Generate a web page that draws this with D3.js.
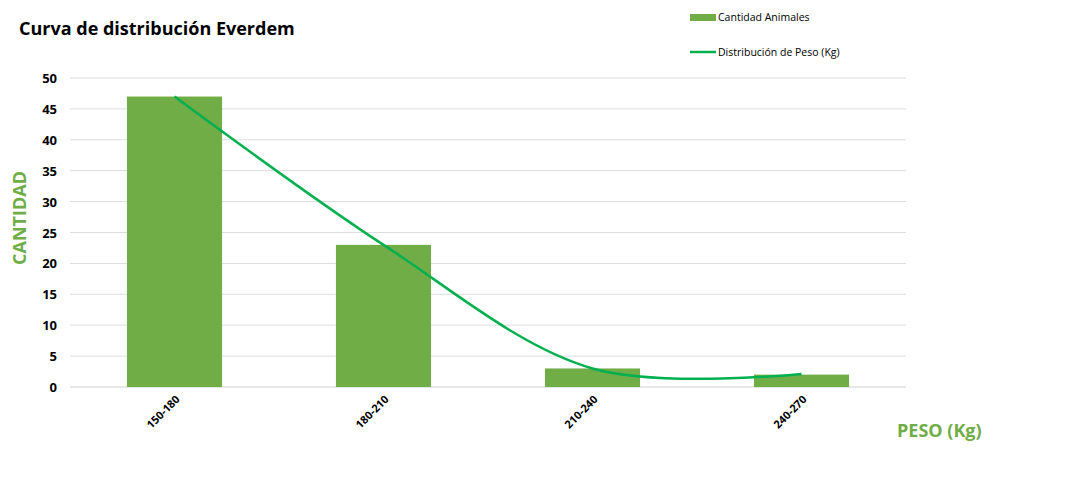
<!DOCTYPE html>
<html><head><meta charset="utf-8">
<script src="https://cdn.jsdelivr.net/npm/d3@7"></script>
<style>body{margin:0;background:#fff}text{font-family:"Open Sans","Liberation Sans",sans-serif}</style>
</head><body><svg id="c" width="1084" height="479"></svg>
<script>
const categories=["150-180","180-210","210-240","240-270"];
const animals=[47,23,3,2];
const distribution=[47,23,3,2.1];
const yTicks=[0,5,10,15,20,25,30,35,40,45,50];
const svg=d3.select("#c");
const x=d3.scaleBand().domain(categories).range([70,906]).paddingInner(0.545).paddingOuter(0.2725);
const y=d3.scaleLinear().domain([0,50]).range([387,78]);
const g=svg.append("g");
g.selectAll("line.grid").data(yTicks).join("line").attr("x1",70).attr("x2",906)
 .attr("y1",d=>y(d)).attr("y2",d=>y(d)).attr("stroke",d=>d===0?"#d0d0d0":"#dcdcdc").attr("stroke-width",1);
g.selectAll("text.yt").data(yTicks).join("text").attr("x",57).attr("y",d=>y(d)+5).attr("text-anchor","end")
 .attr("font-size",13).attr("font-weight","bold").attr("fill","#000").text(d=>d);
g.selectAll("rect").data(categories).join("rect").attr("x",d=>x(d)).attr("width",x.bandwidth())
 .attr("y",(d,i)=>y(animals[i])).attr("height",(d,i)=>y(0)-y(animals[i])).attr("fill","#70ad47");
const cx=d=>x(d)+x.bandwidth()/2;
g.selectAll("text.xt").data(categories).join("text")
 .attr("transform",d=>`translate(${cx(d)+6},${400}) rotate(-45)`).attr("text-anchor","end")
 .attr("font-size",11).attr("font-weight","bold").text(d=>d);
const line=d3.line().x((d,i)=>cx(categories[i])).y(d=>y(d)).curve(d3.curveCatmullRom.alpha(0.5));
g.append("path").attr("d",line(distribution)).attr("fill","none").attr("stroke","#00b050").attr("stroke-width",2.5);
svg.append("text").attr("x",19).attr("y",35).attr("font-size",18).attr("font-weight","bold").text("Curva de distribución Everdem");
svg.append("text").attr("transform","translate(26,218) rotate(-90)").attr("text-anchor","middle")
 .attr("font-size",18).attr("font-weight","bold").attr("fill","#70ad47").text("CANTIDAD");
svg.append("text").attr("x",897).attr("y",437).attr("font-size",18).attr("font-weight","bold").attr("fill","#70ad47").text("PESO (Kg)");
svg.append("rect").attr("x",690).attr("y",14).attr("width",26).attr("height",7).attr("fill","#70ad47");
svg.append("text").attr("x",718).attr("y",21).attr("font-size",10.5).text("Cantidad Animales");
svg.append("line").attr("x1",690).attr("x2",716).attr("y1",52).attr("y2",52).attr("stroke","#00b050").attr("stroke-width",2.5);
svg.append("text").attr("x",718).attr("y",56).attr("font-size",10.5).text("Distribución de Peso (Kg)");
</script></body></html>
